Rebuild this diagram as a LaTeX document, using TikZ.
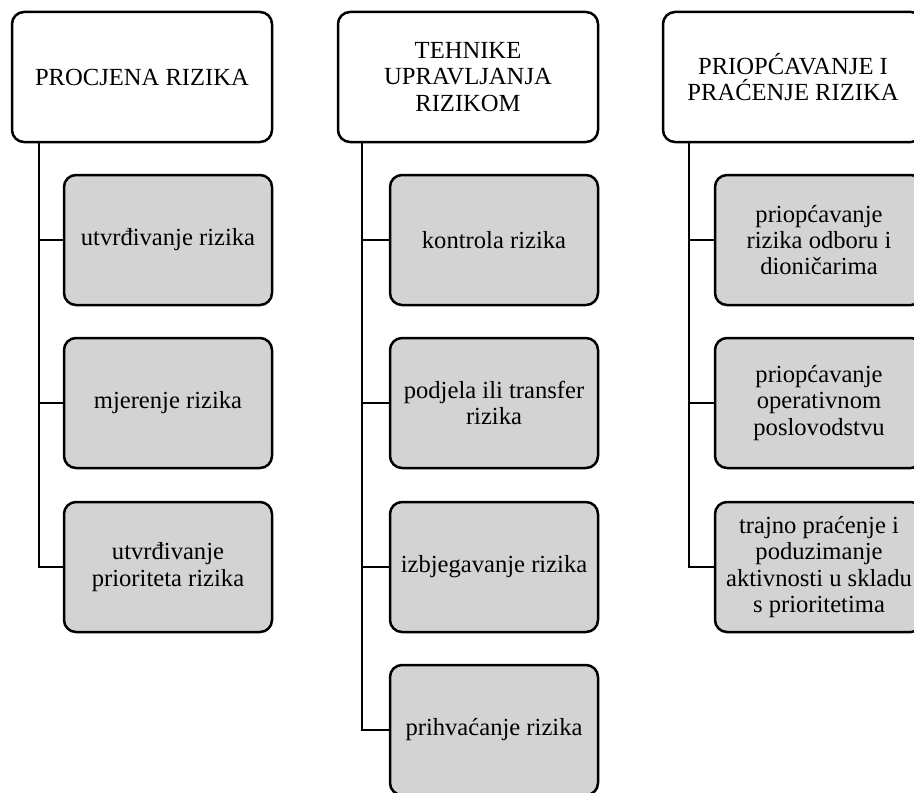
\documentclass[tikz,border=0pt]{standalone}
\usepackage{fontspec}
\setmainfont{Liberation Serif}
\usepackage{tikz}
\definecolor{subgray}{RGB}{211,211,211}

\begin{document}
\begin{tikzpicture}[x=0.5pt,y=-0.5pt,
	head/.style={shape=rectangle,rounded corners=6pt,draw=black,line width=1.25pt,fill=white,minimum width=130pt,minimum height=65pt,align=center,font=\fontsize{12.3}{13.1}\selectfont},
	sub/.style={head,fill=subgray,minimum width=104pt},
	link/.style={line width=1.25pt}]
	\useasboundingbox (0,0) rectangle (914,792);
	\clip (0,0) rectangle (914,792);

	\node[head] (pr)  at (142, 77)  {PROCJENA RIZIKA};
	\node[sub]  (pr1) at (168, 240) {utvrđivanje rizika};
	\node[sub]  (pr2) at (168, 403) {mjerenje rizika};
	\node[sub]  (pr3) at (168, 567) {utvrđivanje\\prioriteta rizika};

	\node[head] (tu)  at (468, 77)  {TEHNIKE\\UPRAVLJANJA\\RIZIKOM};
	\node[sub]  (tu1) at (494, 240) {kontrola rizika};
	\node[sub]  (tu2) at (494, 403) {podjela ili transfer\\rizika};
	\node[sub]  (tu3) at (494, 567) {izbjegavanje rizika};
	\node[sub]  (tu4) at (494, 730) {prihvaćanje rizika};

	\node[head] (pp)  at (793, 77)  {PRIOPĆAVANJE I\\PRAĆENJE RIZIKA};
	\node[sub]  (pp1) at (819, 240) {priopćavanje\\rizika odboru i\\dioničarima};
	\node[sub]  (pp2) at (819, 403) {priopćavanje\\operativnom\\poslovodstvu};
	\node[sub]  (pp3) at (819, 567) {trajno praćenje i\\poduzimanje\\aktivnosti u skladu\\s prioritetima};

	\draw[link] ([xshift=14pt]pr.south west) |- (pr1.west);
	\draw[link] ([xshift=14pt]pr.south west) |- (pr2.west);
	\draw[link] ([xshift=14pt]pr.south west) |- (pr3.west);

	\draw[link] ([xshift=12.5pt]tu.south west) |- (tu1.west);
	\draw[link] ([xshift=12.5pt]tu.south west) |- (tu2.west);
	\draw[link] ([xshift=12.5pt]tu.south west) |- (tu3.west);
	\draw[link] ([xshift=12.5pt]tu.south west) |- (tu4.west);

	\draw[link] ([xshift=13.5pt]pp.south west) |- (pp1.west);
	\draw[link] ([xshift=13.5pt]pp.south west) |- (pp2.west);
	\draw[link] ([xshift=13.5pt]pp.south west) |- (pp3.west);
\end{tikzpicture}
\end{document}
